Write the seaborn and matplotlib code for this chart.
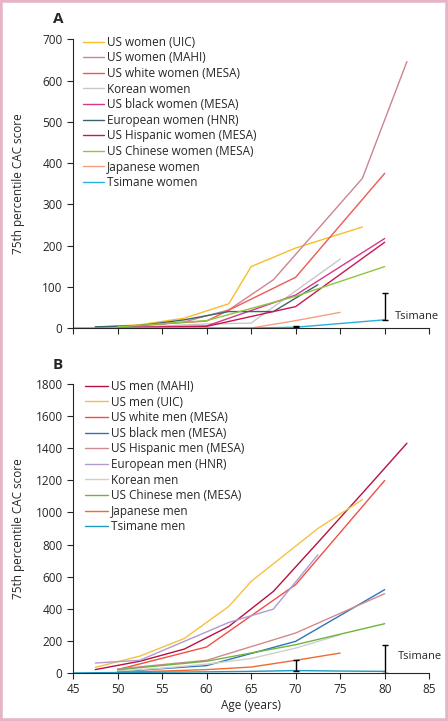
import pandas as pd
import matplotlib.pyplot as plt
import seaborn as sns
from matplotlib.patches import Rectangle

sns.set_style("ticks")
plt.rcParams['font.family'] = ['Open Sans', 'DejaVu Sans']

# ---- panel A: women (age, 75th percentile CAC score) ----
w_uic_age = [47.5, 52.5, 57.5, 62.5, 65, 70, 77.5]
w_uic = [2, 8, 24, 59, 149, 194, 245]
w_mahi_age = [47.5, 52.5, 57.5, 62.5, 67.5, 77.5, 82.5]
w_mahi = [2, 5, 15, 44, 117, 363, 646]
w_white_age = [50, 60, 70, 80]
w_white = [3, 17, 123, 375]
w_korean_age = [50, 55, 60, 65, 70, 75]
w_korean = [2, 5, 10, 12, 90, 167]
w_black_age = [50, 60, 70, 80]
w_black = [1, 5, 80, 217]
w_european_age = [47.5, 52.5, 57.5, 62.5, 67.5, 72.5]
w_european = [3, 6, 20, 40, 40, 105]
w_hispanic_age = [50, 60, 70, 80]
w_hispanic = [1, 4, 52, 208]
w_chinese_age = [50, 60, 70, 80]
w_chinese = [3, 18, 77, 149]
w_japanese_age = [50, 55, 60, 65, 70, 75]
w_japanese = [0, 0, 0, 0, 18, 38]
w_tsimane_age = [45, 50, 55, 60, 65, 70, 80]
w_tsimane = [0, 0, 0, 0, 0, 2, 20]
w_err_age = [70, 80]
w_err_val = [2, 20]
w_err_top = [5, 85]

women_labels = ["US women (UIC)", "US women (MAHI)", "US white women (MESA)",
                "Korean women", "US black women (MESA)", "European women (HNR)",
                "US Hispanic women (MESA)", "US Chinese women (MESA)",
                "Japanese women", "Tsimane women"]
women_colors = ["#F5BE2A", "#CD8490", "#EE5A50", "#C8C8C8", "#D6378A",
                "#3C6470", "#C8184F", "#8CC63F", "#F5A080", "#29B0D8"]
women_ages = [w_uic_age, w_mahi_age, w_white_age, w_korean_age, w_black_age,
              w_european_age, w_hispanic_age, w_chinese_age, w_japanese_age, w_tsimane_age]
women_vals = [w_uic, w_mahi, w_white, w_korean, w_black,
              w_european, w_hispanic, w_chinese, w_japanese, w_tsimane]

# ---- panel B: men ----
m_mahi_age = [47.5, 52.5, 57.5, 62.5, 67.5, 72.5, 77.5, 82.5]
m_mahi = [21, 73, 149, 290, 508, 813, 1120, 1431]
m_uic_age = [47.5, 52.5, 57.5, 62.5, 65, 70, 72.5, 77.5]
m_uic = [35, 105, 215, 415, 570, 790, 900, 1080]
m_white_age = [50, 60, 70, 80]
m_white = [21, 162, 550, 1199]
m_black_age = [50, 60, 70, 80]
m_black = [8, 46, 197, 519]
m_hispanic_age = [50, 60, 70, 80]
m_hispanic = [25, 79, 249, 494]
m_european_age = [47.5, 52.5, 57.5, 62.5, 67.5, 72.5]
m_european = [62, 79, 197, 315, 398, 736]
m_korean_age = [50, 55, 60, 65, 70, 75]
m_korean = [12, 30, 55, 90, 155, 238]
m_chinese_age = [50, 60, 70, 80]
m_chinese = [20, 73, 176, 307]
m_japanese_age = [50, 55, 60, 65, 70, 75]
m_japanese = [5, 12, 21, 37, 79, 124]
m_tsimane_age = [45, 50, 55, 60, 65, 70, 75, 80]
m_tsimane = [0, 3, 5, 7, 10, 15, 12, 10]
m_err_age = [70, 80]
m_err_val = [15, 10]
m_err_low = [15, 0]
m_err_top = [80, 176]

men_labels = ["US men (MAHI)", "US men (UIC)", "US white men (MESA)",
              "US black men (MESA)", "US Hispanic men (MESA)", "European men (HNR)",
              "Korean men", "US Chinese men (MESA)", "Japanese men", "Tsimane men"]
men_colors = ["#B5123F", "#F7C040", "#EE5045", "#2E75B6", "#D08A90",
              "#B09AD0", "#CFCFCF", "#6EB43F", "#F06A35", "#1E9BC0"]
men_ages = [m_mahi_age, m_uic_age, m_white_age, m_black_age, m_hispanic_age,
            m_european_age, m_korean_age, m_chinese_age, m_japanese_age, m_tsimane_age]
men_vals = [m_mahi, m_uic, m_white, m_black, m_hispanic,
            m_european, m_korean, m_chinese, m_japanese, m_tsimane]


def to_long(labels, ages, vals):
    rows = []
    for lab, a, v in zip(labels, ages, vals):
        for x, y in zip(a, v):
            rows.append({"group": lab, "age": x, "cac": y})
    return pd.DataFrame(rows)


def draw_panel(ax, labels, colors, ages, vals, ymax, ystep, handlelen, bbox_x, bbox_y):
    df = to_long(labels, ages, vals)
    sns.lineplot(data=df, x="age", y="cac", hue="group", hue_order=labels,
                 palette=dict(zip(labels, colors)), errorbar=None,
                 linewidth=1.0, ax=ax)
    ax.set_xlim(45, 85)
    ax.set_ylim(0, ymax)
    ax.set_xticks(range(45, 86, 5))
    ax.set_yticks(range(0, ymax + 1, ystep))
    sns.despine(ax=ax)
    ax.spines["left"].set_bounds(0, ymax)
    ax.tick_params(length=4, width=0.8, labelsize=8.5)
    ax.set_ylabel("75th percentile CAC score", fontsize=8.5)
    ax.set_xlabel("")
    h, l = ax.get_legend_handles_labels()
    ax.legend(h, l, frameon=False, loc="upper left", bbox_to_anchor=(bbox_x, bbox_y),
              fontsize=8.5, handlelength=handlelen, handletextpad=0.25,
              labelspacing=0.22, borderpad=0, borderaxespad=0)


fig = plt.figure(figsize=(4.48, 7.21), dpi=100)
axA = fig.add_axes([0.163, 0.545, 0.795, 0.4005])
axB = fig.add_axes([0.163, 0.0666, 0.795, 0.4008])

draw_panel(axA, women_labels, women_colors, women_ages, women_vals, 700, 100, 1.8, 0.028, 1.012)
axA.tick_params(axis="x", labelbottom=False)
axA.errorbar(w_err_age, w_err_val,
             yerr=[[0, 0], [t - v for t, v in zip(w_err_top, w_err_val)]],
             fmt="none", ecolor="black", elinewidth=1, capsize=2.5, capthick=1)
axA.text(81.2, 28, "Tsimane", fontsize=8, va="center")

draw_panel(axB, men_labels, men_colors, men_ages, men_vals, 1800, 200, 2.0, 0.033, 1.014)
axB.errorbar(m_err_age, m_err_val,
             yerr=[[v - lo for v, lo in zip(m_err_val, m_err_low)],
                   [t - v for t, v in zip(m_err_top, m_err_val)]],
             fmt="none", ecolor="black", elinewidth=1, capsize=2.5, capthick=1)
axB.text(81.5, 105, "Tsimane", fontsize=8, va="center")
axB.set_xlabel("Age (years)", fontsize=8.5, labelpad=2)

fig.text(0.118, 0.973, "A", fontsize=11, fontweight="bold", va="center")
fig.text(0.118, 0.494, "B", fontsize=11, fontweight="bold", va="center")

for ax in (axA, axB):
    ax.yaxis.set_label_coords(-0.135, 0.5)

fig.patches.append(Rectangle((0, 0), 1, 1, transform=fig.transFigure, fill=False,
                             edgecolor="#E6B4C8", linewidth=4))

fig.savefig("out.png", dpi=100)
